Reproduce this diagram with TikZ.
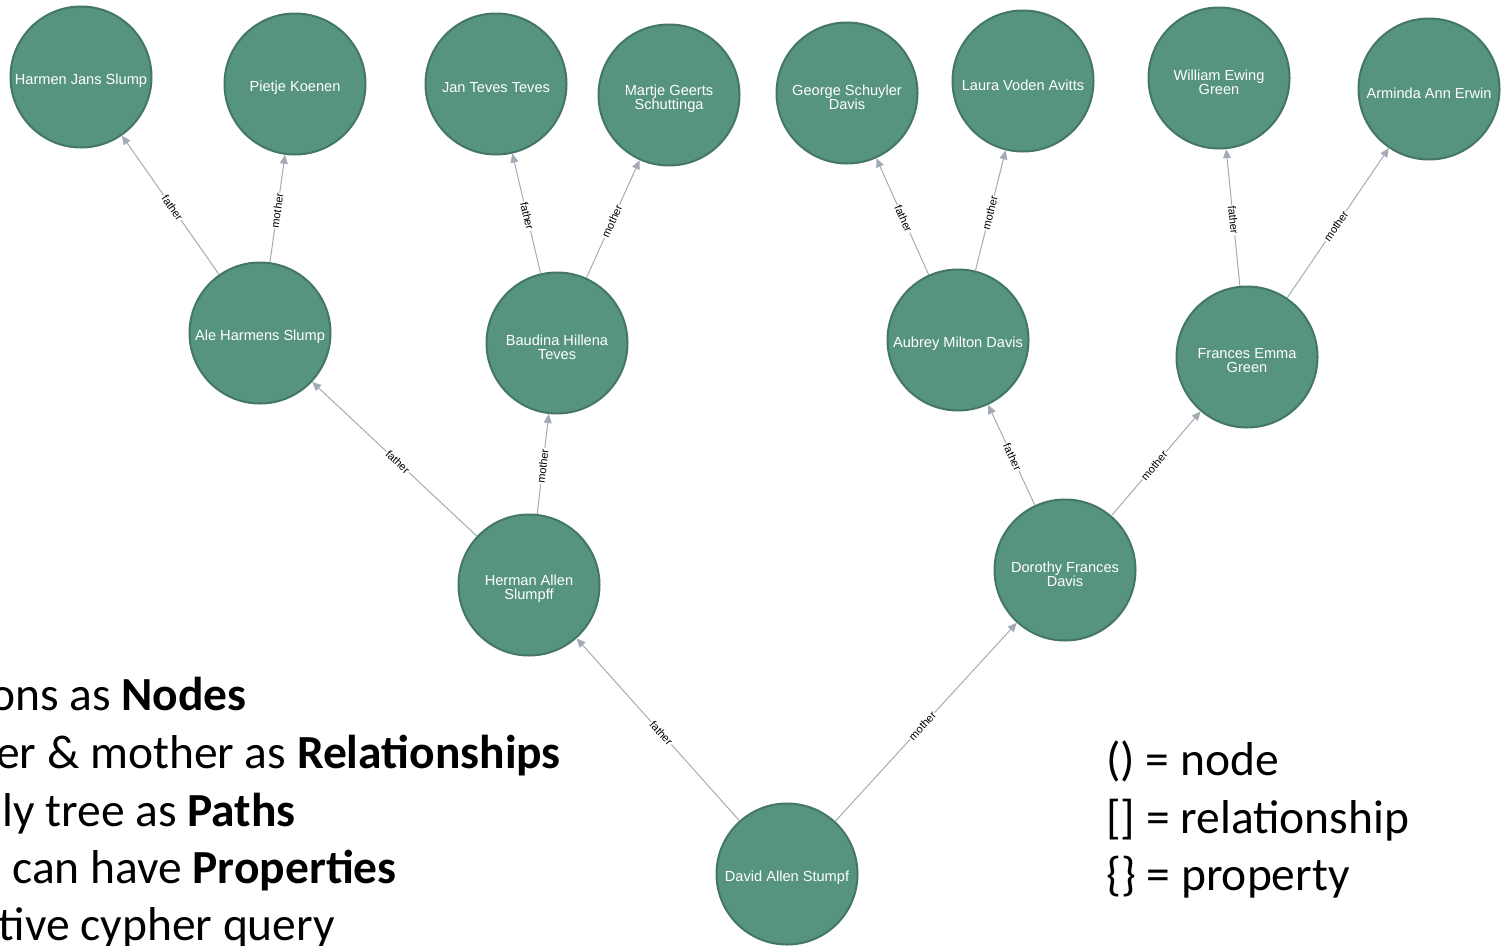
\documentclass[tikz,border=0pt]{standalone}
\usepackage{fontspec}
\setmainfont{Liberation Sans}
\newfontfamily\calibri{Carlito}
\usetikzlibrary{arrows.meta}
\definecolor{nodefill}{HTML}{569480}
\definecolor{nodeedge}{HTML}{447666}
\definecolor{relcol}{HTML}{A5ABB6}

% one person: circle plus its caption, set slightly below the centre
\newcommand\person[3]{%
  \node[person] (#1) at (#2) {};
  \node[ptext] (#1-name) at ([yshift=-4pt]#1.center) {#3};
}

\begin{document}
\begin{tikzpicture}[x=1pt,y=-1pt,
  person/.style={circle, fill=nodefill, draw=nodeedge, line width=2pt,
    minimum size=141pt, inner sep=0pt},
  ptext/.style={text=white, align=center, inner sep=0pt,
    font=\fontsize{14.6}{14}\selectfont},
  rel/.style={draw=relcol, line width=1pt,
    -{Triangle[length=9pt,width=8pt]}},
  lbl/.style={fill=white, inner sep=1pt, text=black, sloped, pos=0.48,
    font=\fontsize{11}{11}\selectfont},
  bigtext/.style={font=\calibri\fontsize{47.5}{58}\selectfont, inner sep=0pt}]
\useasboundingbox (0,0) rectangle (1503,945);

% great-grandparents
\person{harmen}{81,77}{Harmen Jans Slump}
\person{pietje}{295,84}{Pietje Koenen}
\person{jan}{496,84}{Jan Teves Teves}
\person{martje}{669,95}{Martje Geerts\\Schuttinga}
\person{george}{847,93}{George Schuyler\\Davis}
\person{laura}{1023,81}{Laura Voden Avitts}
\person{william}{1219,78}{William Ewing\\Green}
\person{arminda}{1429,89}{Arminda Ann Erwin}

% grandparents
\person{ale}{260,333}{Ale Harmens Slump}
\person{baudina}{557,343}{Baudina Hillena\\Teves}
\person{aubrey}{958,340}{Aubrey Milton Davis}
\person{frances}{1247,357}{Frances Emma\\Green}

% parents
\person{herman}{529,585}{Herman Allen\\Slumpff}
\person{dorothy}{1065,570}{Dorothy Frances\\Davis}

% root
\person{david}{787,874}{David Allen Stumpf}

% relationships, child -> parent
\draw[rel] (ale) -- node[lbl]{father} (harmen);
\draw[rel] (ale) -- node[lbl]{mother} (pietje);
\draw[rel] (baudina) -- node[lbl]{father} (jan);
\draw[rel] (baudina) -- node[lbl]{mother} (martje);
\draw[rel] (aubrey) -- node[lbl]{father} (george);
\draw[rel] (aubrey) -- node[lbl]{mother} (laura);
\draw[rel] (frances) -- node[lbl]{father} (william);
\draw[rel] (frances) -- node[lbl]{mother} (arminda);
\draw[rel] (herman) -- node[lbl]{father} (ale);
\draw[rel] (herman) -- node[lbl]{mother} (baudina);
\draw[rel] (dorothy) -- node[lbl]{father} (aubrey);
\draw[rel] (dorothy) -- node[lbl]{mother} (frances);
\draw[rel] (david) -- node[lbl]{father} (herman);
\draw[rel] (david) -- node[lbl]{mother} (dorothy);

% bullet text
\node[bigtext, anchor=base east] (t1) at (247,710) {ons as \textbf{Nodes}};
\node[bigtext, anchor=base east] (t2) at (561,768) {er \& mother as \textbf{Relationships}};
\node[bigtext, anchor=base east] (t3) at (296,826) {ly tree as \textbf{Paths}};
\node[bigtext, anchor=base east] (t4) at (397,883) {can have \textbf{Properties}};
\node[bigtext, anchor=base east] (t5) at (335,940) {tive cypher query};

% legend
\node[bigtext, anchor=base west] (g1) at (1106,775) {() = node};
\node[bigtext, anchor=base west] (g2) at (1106,833) {[] = relationship};
\node[bigtext, anchor=base west] (g3) at (1106,890) {\{\} = property};
\end{tikzpicture}
\end{document}
